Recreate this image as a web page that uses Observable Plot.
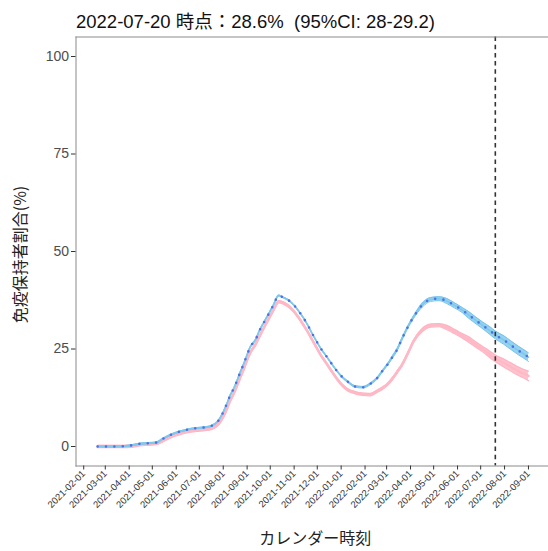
<!DOCTYPE html>
<html>
<head>
<meta charset="utf-8">
<script src="https://cdn.jsdelivr.net/npm/d3@7"></script>
<script src="https://cdn.jsdelivr.net/npm/@observablehq/plot@0.6"></script>
<style>
  html, body { margin: 0; padding: 0; background: #fff; }
  #chart svg { display: block; }
</style>
</head>
<body>
<div id="chart"></div>
<script>
const titleText = "2022-07-20 時点：28.6%\u00a0 (95%CI: 28-29.2)";
const yTitle = "免疫保持者割合(%)";
const xTitle = "カレンダー時刻";
const cutDate = "2022-07-20";
const yTicks = [0, 25, 50, 75, 100];
const xTickDates = ["2021-02-01","2021-03-01","2021-04-01","2021-05-01","2021-06-01","2021-07-01","2021-08-01","2021-09-01","2021-10-01","2021-11-01","2021-12-01","2022-01-01","2022-02-01","2022-03-01","2022-04-01","2022-05-01","2022-06-01","2022-07-01","2022-08-01","2022-09-01"];

const dates = ["2021-02-19","2021-03-13","2021-03-24","2021-04-04","2021-04-15","2021-04-26","2021-05-06","2021-05-15","2021-05-26","2021-06-06","2021-06-16","2021-06-27","2021-07-08","2021-07-17","2021-07-26","2021-08-01","2021-08-06","2021-08-10","2021-08-15","2021-08-19","2021-08-23","2021-08-28","2021-08-31","2021-09-05","2021-09-12","2021-09-17","2021-09-23","2021-09-29","2021-10-05","2021-10-12","2021-10-18","2021-10-24","2021-10-31","2021-11-07","2021-11-13","2021-11-19","2021-11-24","2021-11-30","2021-12-06","2021-12-13","2021-12-19","2021-12-26","2022-01-02","2022-01-09","2022-01-19","2022-01-29","2022-02-08","2022-02-17","2022-02-24","2022-03-02","2022-03-09","2022-03-15","2022-03-20","2022-03-30","2022-04-05","2022-04-16","2022-04-27","2022-05-08","2022-05-18","2022-05-28","2022-06-07","2022-06-15","2022-06-25","2022-07-04","2022-07-13","2022-07-20","2022-07-31","2022-08-09","2022-08-19","2022-08-30","2022-09-01"];

const blueValues = [0,0,0.05,0.3,0.7,0.85,1.0,2.0,3.1,3.85,4.35,4.7,4.9,5.3,6.7,8.8,11.1,13.1,15,16.9,19,21.4,23,25.5,27.4,29.7,31.9,34,36.2,38.7,38.2,37.6,36.4,34.7,33.0,31.0,29.1,27.0,25.0,23.1,21.4,19.5,17.9,16.7,15.4,15.2,16.1,17.6,19.5,21.0,23.1,25.0,27.2,31.2,33.2,36.2,37.7,37.9,37.3,36.2,35.0,33.8,32.3,31.0,29.7,28.6,27.3,26.0,24.6,23.2,22.9];

const pinkValues = [0,0,0,0.1,0.45,0.6,0.75,1.5,2.6,3.35,3.85,4.15,4.35,4.7,5.8,7.6,9.7,11.7,13.7,15.6,17.6,20.0,21.6,24.0,26.2,28.2,30.5,32.7,34.9,37.1,36.8,36.1,34.8,33.0,31.2,29.3,27.5,25.4,23.3,21.3,19.5,17.5,15.8,14.6,13.8,13.4,13.3,14.2,15.0,15.9,17.5,19.2,20.6,24.5,27.0,29.8,31.0,31.1,30.5,29.5,28.4,27.5,26.1,24.9,23.6,22.6,21.4,20.4,19.3,18.3,18.1];

const blueHalfWidth = [0.15,0.15,0.15,0.15,0.15,0.15,0.15,0.15,0.15,0.15,0.15,0.15,0.15,0.15,0.15,0.15,0.15,0.15,0.15,0.15,0.15,0.15,0.15,0.15,0.15,0.15,0.15,0.15,0.15,0.15,0.15,0.15,0.15,0.15,0.15,0.15,0.15,0.15,0.15,0.15,0.15,0.15,0.2,0.2,0.2,0.2,0.2,0.2,0.2,0.2,0.3,0.3,0.3,0.3,0.3,0.5,0.5,0.5,0.65,0.65,0.65,0.85,0.85,0.85,1.0,1.0,1.1,1.1,1.1,1.1,1.1];

const pinkHalfWidth = [0.3,0.3,0.3,0.3,0.3,0.3,0.3,0.3,0.3,0.3,0.3,0.3,0.3,0.3,0.3,0.3,0.3,0.3,0.3,0.3,0.3,0.3,0.3,0.3,0.3,0.3,0.3,0.3,0.3,0.3,0.3,0.3,0.3,0.3,0.3,0.3,0.3,0.3,0.3,0.3,0.3,0.3,0.3,0.3,0.3,0.3,0.3,0.3,0.3,0.3,0.3,0.3,0.3,0.3,0.3,0.4,0.4,0.4,0.55,0.55,0.55,0.7,0.7,0.7,0.85,0.85,1.0,1.05,1.1,1.15,1.2];

const rows = dates.map((d, i) => ({
  date: new Date(d),
  b: blueValues[i],
  bLo: blueValues[i] - blueHalfWidth[i],
  bHi: blueValues[i] + blueHalfWidth[i],
  p: pinkValues[i],
  pLo: pinkValues[i] - pinkHalfWidth[i],
  pHi: pinkValues[i] + pinkHalfWidth[i]
}));

const curve = "monotone-x";
const sans = "'Liberation Sans', Arial, 'Noto Sans CJK JP', sans-serif";
const cjk = "'Noto Sans CJK JP', sans-serif";

const chart = Plot.plot({
  width: 548,
  height: 551,
  marginLeft: 75.5,
  marginRight: 0,
  marginTop: 36.5,
  marginBottom: 85.5,
  style: { fontFamily: sans, background: "#fff", overflow: "visible" },
  x: { type: "utc", domain: [new Date("2021-01-22"), new Date("2022-09-27")] },
  y: { domain: [-5, 105] },
  marks: [
    Plot.areaY(rows, { x: "date", y1: "pLo", y2: "pHi", fill: "#FFC3CE", curve }),
    Plot.lineY(rows, { x: "date", y: "pLo", stroke: "#FFB3C1", strokeWidth: 1.2, curve }),
    Plot.lineY(rows, { x: "date", y: "pHi", stroke: "#FFB3C1", strokeWidth: 1.2, curve }),
    Plot.lineY(rows, { x: "date", y: "p", stroke: "#FFB8C6", strokeWidth: 2.4, curve }),
    Plot.areaY(rows, { x: "date", y1: "bLo", y2: "bHi", fill: "#96D3EF", curve }),
    Plot.lineY(rows, { x: "date", y: "bLo", stroke: "#74C1EA", strokeWidth: 1, curve }),
    Plot.lineY(rows, { x: "date", y: "bHi", stroke: "#74C1EA", strokeWidth: 1, curve }),
    Plot.lineY(rows, { x: "date", y: "b", stroke: "#7FC8EC", strokeWidth: 1.6, curve }),
    Plot.lineY(rows, { x: "date", y: "b", stroke: "#4B73E4", strokeWidth: 2.6, strokeLinecap: "round", strokeDasharray: "0,8.4", curve }),
    Plot.ruleX([new Date(cutDate)], { stroke: "#333", strokeWidth: 1.6, strokeDasharray: "4.5,3.7" }),
    Plot.frame({ anchor: "top", stroke: "#8a8a8a", strokeWidth: 1 }),
    Plot.frame({ anchor: "left", stroke: "#8a8a8a", strokeWidth: 1 }),
    Plot.frame({ anchor: "bottom", stroke: "#8a8a8a", strokeWidth: 1 }),
    Plot.axisY({ ticks: yTicks, label: null, tickSize: 4.5, tickPadding: 2.5, fontSize: 14, color: "#4d4d4d", stroke: "#333" }),
    Plot.axisX({ ticks: xTickDates.map(d => new Date(d)), tickFormat: d3.utcFormat("%Y-%m-%d"), label: null, tickSize: 4, tickPadding: 2, tickRotate: -45, fontSize: 9.5, color: "#333", stroke: "#333" }),
    Plot.text([titleText], { frameAnchor: "top-left", dx: 0, dy: -9, lineAnchor: "bottom", textAnchor: "start", fontSize: 18.5, fill: "#111", fontFamily: sans }),
    Plot.text([yTitle], { frameAnchor: "left", dx: -55, dy: 3, rotate: -90, textAnchor: "middle", fontSize: 16, fill: "#222", fontFamily: cjk }),
    Plot.text([xTitle], { frameAnchor: "bottom", dx: 3, dy: 78, fontSize: 16, fill: "#222", fontFamily: cjk })
  ]
});

document.getElementById("chart").append(chart);
</script>
</body>
</html>
